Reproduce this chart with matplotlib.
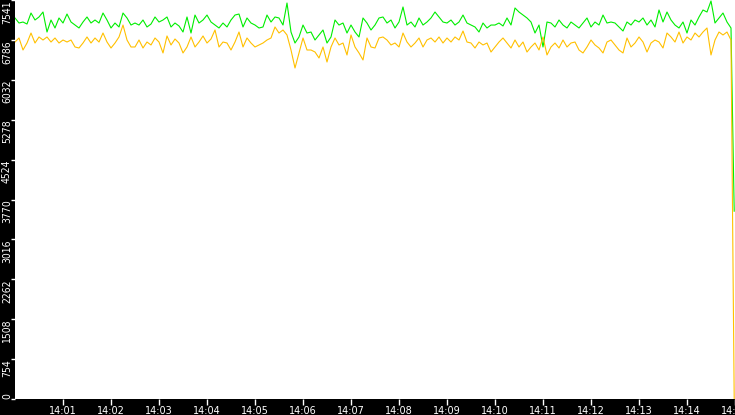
import matplotlib
matplotlib.use('Agg')
import matplotlib.pyplot as plt
import matplotlib.dates as mdates
from matplotlib import font_manager
import pandas as pd

# samples every 5 s from 14:00:00, plus the final drop
green_vals = [
    7201, 7106, 7125, 7087, 7295, 7163, 7220, 7314, 6936, 7163,
    7012, 7201, 7106, 7276, 7125, 7068, 7012, 7125, 7220, 7106,
    7163, 7106, 7295, 7163, 7012, 7106, 7031, 7295, 7201, 7068,
    7106, 7068, 7163, 7031, 7087, 7220, 7125, 7163, 7220, 7031,
    7106, 7050, 6936, 7220, 6917, 7257, 7106, 7163, 7257, 7125,
    7068, 7012, 7106, 7031, 7163, 7257, 7276, 7031, 7201, 7106,
    7068, 7012, 7031, 7257, 7125, 7220, 7201, 7068, 7484, 6936,
    6728, 6842, 7068, 6917, 6936, 6785, 6880, 6974, 6728, 6842,
    7163, 7068, 7106, 6917, 7068, 6936, 6842, 7201, 7106, 6974,
    7068, 7201, 7220, 7106, 7163, 7012, 7125, 7409, 7068, 7125,
    7031, 7201, 7068, 7125, 7201, 7314, 7220, 7125, 7106, 7163,
    7068, 7125, 7257, 7106, 7068, 7031, 6936, 7106, 7012, 7068,
    7068, 7106, 7050, 7201, 7068, 7390, 7314, 7257, 7201, 7125,
    6917, 7068, 6653, 7125, 7106, 7031, 7163, 7068, 7012, 7125,
    7068, 7012, 7106, 7201, 7031, 7125, 7068, 7257, 7106, 7125,
    7106, 7031, 6955, 7125, 7068, 7163, 7125, 7201, 7068, 7163,
    7031, 7352, 7125, 7314, 7163, 7068, 7012, 7125, 6917, 7163,
    7068, 7220, 7352, 7314, 7522, 7106, 7201, 7295, 7125, 7012,
    3550,
]

orange_vals = [
    6747, 6823, 6596, 6728, 6917, 6728, 6842, 6785, 6842, 6747,
    6823, 6728, 6785, 6747, 6785, 6653, 6634, 6728, 6842, 6728,
    6823, 6747, 6917, 6747, 6634, 6728, 6842, 7068, 6785, 6653,
    6653, 6785, 6634, 6747, 6691, 6823, 6747, 6540, 6861, 6691,
    6804, 6728, 6540, 6653, 6842, 6653, 6747, 6861, 6728, 6804,
    6974, 6653, 6747, 6728, 6596, 6747, 6936, 6653, 6823, 6728,
    6653, 6691, 6728, 6785, 6823, 7031, 6917, 6974, 6880, 6596,
    6256, 6540, 6823, 6596, 6596, 6558, 6445, 6653, 6369, 6653,
    6823, 6691, 6728, 6502, 6880, 6653, 6540, 6407, 6823, 6653,
    6634, 6823, 6842, 6785, 6691, 6728, 6653, 6917, 6747, 6653,
    6728, 6823, 6653, 6785, 6823, 6747, 6842, 6728, 6823, 6747,
    6842, 6785, 6955, 6747, 6728, 6634, 6747, 6691, 6728, 6558,
    6653, 6747, 6823, 6728, 6634, 6785, 6653, 6747, 6558, 6653,
    6728, 6596, 6842, 6502, 6653, 6728, 6634, 6785, 6653, 6728,
    6747, 6596, 6540, 6653, 6785, 6691, 6634, 6540, 6747, 6785,
    6691, 6596, 6540, 6823, 6653, 6728, 6842, 6747, 6558, 6728,
    6785, 6747, 6634, 6917, 6842, 6747, 6936, 6728, 6842, 6785,
    6917, 6842, 6936, 7012, 6502, 6785, 6936, 6880, 6936, 6785,
    0,
]

y_ticks = [0, 754, 1508, 2262, 3016, 3770, 4524, 5278, 6032, 6786, 7541]
start, end = '2020-01-01 14:00:00', '2020-01-01 14:15:00'

times = list(pd.date_range(start, periods=len(green_vals) - 1, freq='5s'))
times.append(pd.Timestamp('2020-01-01 14:14:59'))

# narrow font for the rotated y labels if there is one
try:
    font_manager.findfont('Liberation Sans Narrow', fallback_to_default=False)
    ylab_font = dict(family='Liberation Sans Narrow', size=10)
except Exception:
    ylab_font = dict(family='DejaVu Sans', stretch='condensed', size=7.5)

fig = plt.figure(figsize=(7.35, 4.15), dpi=100, facecolor='black')
ax = fig.add_axes([15 / 735, 16 / 415, 720 / 735, 399 / 415])
ax.set_facecolor('white')

ax.plot(times, green_vals, color='#00ee00', lw=0.8)
ax.plot(times, orange_vals, color='#ffc000', lw=0.8)

ax.set_xlim(pd.Timestamp(start), pd.Timestamp(end))
ax.set_ylim(0, y_ticks[-1])
for s in ax.spines.values():
    s.set_visible(False)

ax.xaxis.set_major_locator(mdates.MinuteLocator(byminute=range(1, 16)))
ax.xaxis.set_major_formatter(mdates.DateFormatter('%H:%M'))
ax.tick_params(axis='x', colors='white', labelsize=7, length=4, width=1, pad=1)

ax.set_yticks(y_ticks)
ax.tick_params(axis='y', colors='white', length=2.9, width=1, pad=0.7)
ax.set_yticklabels([str(v) for v in y_ticks])
for i, lab in enumerate(ax.get_yticklabels()):
    lab.set_rotation(90)
    lab.set_rotation_mode('anchor')
    lab.set_fontproperties(font_manager.FontProperties(**ylab_font))
    lab.set_va('baseline')
    lab.set_ha('left' if i == 0 else 'right')

fig.savefig('out.png', dpi=100, facecolor='black')
